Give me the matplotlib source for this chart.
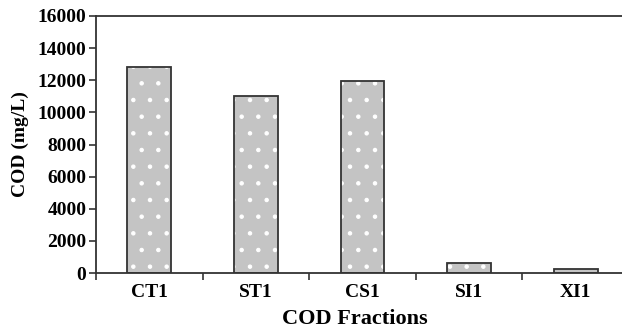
import matplotlib
matplotlib.use("Agg")
import matplotlib.pyplot as plt
import numpy as np

categories = ["CT1", "ST1", "CS1", "SI1", "XI1"]
values = [12800, 11000, 11950, 600, 250]
yticks = [0, 2000, 4000, 6000, 8000, 10000, 12000, 14000, 16000]

plt.rcParams['font.family'] = ['Liberation Serif', 'DejaVu Serif']
plt.rcParams['font.weight'] = 'bold'
plt.rcParams['hatch.linewidth'] = 0.8

W, H = 622, 331
fig = plt.figure(figsize=(W/100, H/100), dpi=100)
left, right, top, bottom = 96, 629, 16, 273
ax = fig.add_axes([left/W, 1 - bottom/H, (right-left)/W, (bottom-top)/H])

x = np.arange(len(categories))
ax.bar(x, values, width=0.41, color='#c4c4c4', edgecolor='white', hatch='.', linewidth=0, zorder=2)
ax.bar(x, values, width=0.41, fill=False, edgecolor='#333333', linewidth=1.3, zorder=3)

ax.set_xlim(-0.5, len(categories) - 0.5)
ax.set_ylim(0, 16000)
ax.set_yticks(yticks)
ax.set_yticklabels([str(v) for v in yticks], fontsize=14, fontweight='bold')
ax.set_xticks(x)
ax.set_xticklabels(categories, fontsize=14, fontweight='bold')
ax.tick_params(axis='x', length=0, pad=8)
ax.set_xticks(np.arange(len(categories) + 1) - 0.5, minor=True)
ax.tick_params(axis='x', which='minor', length=5, width=1.2, color='#333333', direction='out')
ax.tick_params(axis='y', length=5, width=1.2, color='#333333', direction='out', pad=2)

for s in ax.spines.values():
    s.set_color('#333333')
    s.set_linewidth(1.3)

ax.set_ylabel('COD (mg/L)', fontsize=14, fontweight='bold', labelpad=6)
ax.set_xlabel('COD Fractions', fontsize=16, fontweight='bold', labelpad=5)
ax.xaxis.set_label_coords(0.485, -0.14, transform=ax.transAxes)
ax.xaxis.label.set_va('top')

fig.savefig('out.png', dpi=100)
